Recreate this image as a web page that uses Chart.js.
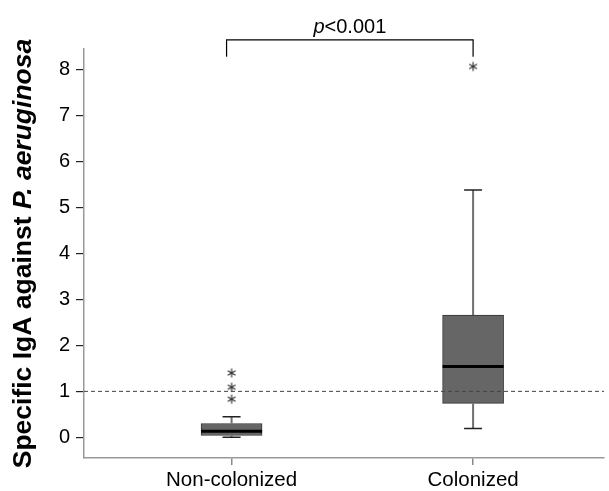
<!DOCTYPE html>
<html>
<head>
<meta charset="utf-8">
<script src="https://cdn.jsdelivr.net/npm/chart.js@4"></script>
<style>
html,body{margin:0;padding:0;background:#fff;}
#wrap{position:relative;width:609px;height:491px;}
</style>
</head>
<body>
<div id="wrap"><canvas id="c"></canvas></div>
<script>
// ---- data ----
const categories = ['Non-colonized', 'Colonized'];
const boxMin    = [0.00, 0.19];
const boxQ1     = [0.04, 0.74];
const boxMedian = [0.13, 1.54];
const boxQ3     = [0.30, 2.66];
const boxMax    = [0.45, 5.38];
const outliersNonColonized = [0.83, 1.09, 1.40];
const outliersColonized = [8.07];
const referenceLine = 1;
const yTicks = [0, 1, 2, 3, 4, 5, 6, 7, 8];
const yTitleParts = [['Specific IgA against ', 'bold'], ['P. aeruginosa', 'italic bold']];
const pText = ['p', '<0.001'];

const FONT = '"Liberation Sans", Arial, sans-serif';

// asterisk point image
function makeAsterisk() {
  const c = document.createElement('canvas');
  c.width = 12; c.height = 12;
  const g = c.getContext('2d');
  g.strokeStyle = '#333';
  g.lineWidth = 1.2;
  const cx = 6, cy = 6, r = 4.5;
  for (let k = 0; k < 3; k++) {
    const a = Math.PI / 2 + k * Math.PI / 3;
    g.beginPath();
    g.moveTo(cx + r * Math.cos(a), cy + r * Math.sin(a));
    g.lineTo(cx - r * Math.cos(a), cy - r * Math.sin(a));
    g.stroke();
  }
  return c;
}
const asterisk = makeAsterisk();

const boxData = categories.map((c, i) => ({x: i + 1, y: [boxQ1[i], boxQ3[i]]}));
const outlierData = [
  ...outliersNonColonized.map(v => ({x: 1, y: v})),
  ...outliersColonized.map(v => ({x: 2, y: v}))
];

const boxPlugin = {
  id: 'boxExtras',
  afterDatasetsDraw(chart) {
    const ctx = chart.ctx;
    const xs = chart.scales.x, ys = chart.scales.y;
    const area = chart.chartArea;
    ctx.save();
    categories.forEach((c, i) => {
      const x = xs.getPixelForValue(i + 1);
      const half = 30.5, cap = 9;
      // whiskers
      ctx.strokeStyle = '#707070';
      ctx.lineWidth = 2;
      ctx.beginPath();
      ctx.moveTo(x, ys.getPixelForValue(boxQ3[i]));
      ctx.lineTo(x, ys.getPixelForValue(boxMax[i]));
      ctx.moveTo(x, ys.getPixelForValue(boxQ1[i]));
      ctx.lineTo(x, ys.getPixelForValue(boxMin[i]));
      ctx.stroke();
      ctx.strokeStyle = '#222';
      ctx.lineWidth = 1.5;
      ctx.beginPath();
      ctx.moveTo(x - cap, ys.getPixelForValue(boxMax[i]));
      ctx.lineTo(x + cap, ys.getPixelForValue(boxMax[i]));
      ctx.moveTo(x - cap, ys.getPixelForValue(boxMin[i]));
      ctx.lineTo(x + cap, ys.getPixelForValue(boxMin[i]));
      ctx.stroke();
      // median
      ctx.strokeStyle = '#000';
      ctx.lineWidth = 3;
      ctx.beginPath();
      ctx.moveTo(x - half, ys.getPixelForValue(boxMedian[i]));
      ctx.lineTo(x + half, ys.getPixelForValue(boxMedian[i]));
      ctx.stroke();
    });
    // reference dashed line
    const yr = ys.getPixelForValue(referenceLine);
    ctx.strokeStyle = '#444';
    ctx.lineWidth = 1;
    ctx.setLineDash([4, 3]);
    ctx.beginPath();
    ctx.moveTo(area.left, yr);
    ctx.lineTo(area.right, yr);
    ctx.stroke();
    ctx.setLineDash([]);
    // significance bracket
    const x1 = xs.getPixelForValue(1) - 5, x2 = xs.getPixelForValue(2);
    const yb = ys.getPixelForValue(8.65), yd = ys.getPixelForValue(8.28);
    ctx.strokeStyle = '#000';
    ctx.lineWidth = 1.2;
    ctx.beginPath();
    ctx.moveTo(x1, yd); ctx.lineTo(x1, yb); ctx.lineTo(x2, yb); ctx.lineTo(x2, yd);
    ctx.stroke();
    // p text
    ctx.fillStyle = '#000';
    ctx.textBaseline = 'alphabetic';
    ctx.font = 'italic 20px ' + FONT;
    const w1 = ctx.measureText(pText[0]).width;
    ctx.font = '20px ' + FONT;
    const w2 = ctx.measureText(pText[1]).width;
    let tx = (x1 + x2) / 2 - (w1 + w2) / 2;
    const ty = yb - 7;
    ctx.font = 'italic 20px ' + FONT;
    ctx.fillText(pText[0], tx, ty);
    ctx.font = '20px ' + FONT;
    ctx.fillText(pText[1], tx + w1, ty);
    // y title
    ctx.translate(24, (area.top + area.bottom) / 2);
    ctx.rotate(-Math.PI / 2);
    let total = 0;
    const size = 26.5;
    yTitleParts.forEach(p => { ctx.font = p[1] + ' ' + size + 'px ' + FONT; total += ctx.measureText(p[0]).width; });
    let px = -total / 2;
    ctx.textBaseline = 'middle';
    yTitleParts.forEach(p => {
      ctx.font = p[1] + ' ' + size + 'px ' + FONT;
      ctx.fillText(p[0], px, 0);
      px += ctx.measureText(p[0]).width;
    });
    ctx.restore();
  }
};

new Chart(document.getElementById('c'), {
  type: 'bar',
  data: {
    datasets: [
      {
        type: 'bar',
        data: boxData,
        backgroundColor: '#666666',
        borderColor: '#333333',
        borderWidth: 1,
        borderSkipped: false,
        barThickness: 61,
        order: 2
      },
      {
        type: 'scatter',
        data: outlierData,
        pointStyle: asterisk,
        order: 1
      }
    ]
  },
  options: {
    responsive: true,
    maintainAspectRatio: false,
    animation: false,
    layout: {padding: {top: 49, right: 1, left: 0, bottom: 0}},
    plugins: {legend: {display: false}, tooltip: {enabled: false}},
    scales: {
      x: {
        type: 'linear',
        offset: false,
        min: 0.389,
        max: 2.542,
        afterBuildTicks(s) { s.ticks = categories.map((c, i) => ({value: i + 1})); },
        afterFit(s) { s.height = 33; s.paddingLeft = 0; s.paddingRight = 0; },
        ticks: {
          callback: (v) => categories[Math.round(v) - 1] || '',
          color: '#000',
          font: {family: FONT, size: 20.5},
          padding: 3,
          maxRotation: 0,
          autoSkip: false
        },
        grid: {offset: false, drawOnChartArea: false, drawTicks: true, tickLength: 7, color: '#888', lineWidth: 1.5},
        border: {display: true, color: '#999', width: 1.5}
      },
      y: {
        type: 'linear',
        min: -0.45,
        max: 8.45,
        afterBuildTicks(s) { s.ticks = yTicks.map(v => ({value: v})); },
        afterFit(s) { s.width = 84; s.paddingTop = 0; s.paddingBottom = 0; },
        ticks: {
          color: '#000',
          font: {family: FONT, size: 20},
          padding: 6
        },
        grid: {drawOnChartArea: false, drawTicks: true, tickLength: 8, color: '#222', lineWidth: 1.2},
        border: {display: true, color: '#999', width: 1.5}
      }
    }
  },
  plugins: [boxPlugin]
});
</script>
</body>
</html>
